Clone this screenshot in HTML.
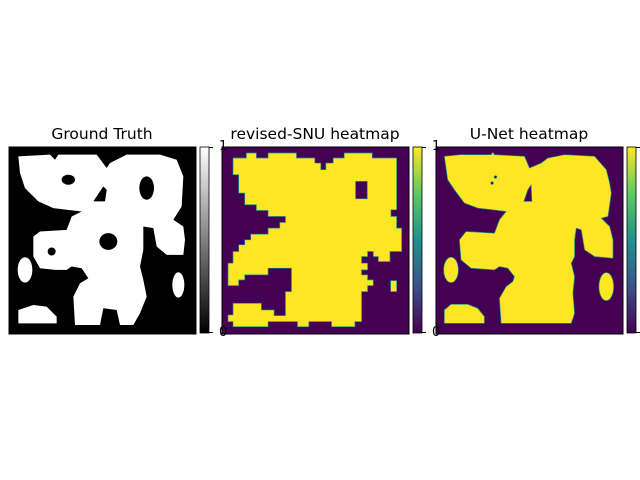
<!DOCTYPE html>
<html><head><meta charset="utf-8"><style>
body{margin:0;background:#fff;width:640px;height:480px;position:relative;overflow:hidden;font-family:"DejaVu Sans","Liberation Sans",sans-serif}
.t{position:absolute;font-size:15.5px;color:#000;text-align:center;width:240px;line-height:18px}
.tk{position:absolute;font-size:13px;color:#000;line-height:14px}
svg{position:absolute;overflow:visible}
</style></head><body>
<div class="t" style="left:-18px;top:125px">Ground Truth</div>
<div class="t" style="left:195px;top:125px">revised-SNU heatmap</div>
<div class="t" style="left:409px;top:125px">U-Net heatmap</div>

<svg style="left:9px;top:147px" width="187" height="187" viewBox="27 22 561 560" preserveAspectRatio="none">
<rect x="27" y="22" width="561" height="560" fill="#000"/>
<g fill="#fff">
<path d="M55,50 L150,45 165,60 175,45 290,45 320,85 330,70 380,45 480,45 530,60 550,110 545,200 520,240 550,260 555,300 550,345 500,345 470,320 460,265 430,260 430,330 420,380 430,420 440,470 420,520 400,555 360,555 350,510 310,505 300,555 225,555 220,470 240,430 265,415 245,385 215,380 200,390 165,390 120,385 100,350 100,290 120,275 200,270 215,230 245,215 200,210 160,205 115,185 75,145 60,100Z"/>
<ellipse cx="75" cy="390" rx="22" ry="38"/>
<ellipse cx="535" cy="435" rx="18" ry="38"/>
<path d="M55,510 L100,495 140,500 170,530 170,550 55,550Z"/>
</g>
<g fill="#000">
<ellipse cx="205" cy="120" rx="20" ry="15"/>
<path d="M280,185 L310,140 320,150 315,185Z"/>
<ellipse cx="440" cy="145" rx="22" ry="35"/>
<ellipse cx="325" cy="305" rx="27" ry="25"/>
<ellipse cx="155" cy="335" rx="12" ry="12"/>
</g>
<rect x="27" y="22" width="561" height="560" fill="none" stroke="#000" stroke-width="3"/>
</svg>

<svg style="left:222px;top:147px" width="187" height="187" viewBox="22 22 560 560" preserveAspectRatio="none">
<rect x="22" y="22" width="560" height="560" fill="#440154"/>
<g fill="#fde725" stroke="#21918c" stroke-width="2">
<path d="M55,55 L95,55 95,40 125,40 125,55 160,55 160,40 245,40 245,55 300,55 300,70 318,70 318,90 333,90 333,70 355,70 355,55 388,55 388,40 472,40 472,55 545,55 545,210 528,210 528,230 545,230 545,265 560,265 560,335 525,335 525,365 490,365 490,350 475,350 475,335 458,335 458,350 440,350 440,370 458,370 458,390 440,390 440,405 458,405 458,420 475,420 475,437 458,437 458,455 440,455 440,545 420,545 420,560 350,560 350,545 282,545 282,560 248,560 248,545 160,545 160,560 55,560 55,545 40,545 40,525 55,525 55,490 140,490 140,510 178,510 178,527 212,527 212,455 230,455 230,385 160,385 160,405 90,405 90,420 72,420 72,437 40,437 40,370 55,370 55,335 72,335 72,315 90,315 90,300 108,300 108,283 160,283 160,265 195,265 195,248 212,248 212,230 160,230 160,212 125,212 125,195 90,195 90,160 72,160 72,105 55,105Z"/>
<rect x="527" y="422" width="18" height="33"/>
</g>
<rect x="422" y="125" width="35" height="52" fill="#440154" stroke="#21918c" stroke-width="2"/>
<rect x="22" y="22" width="560" height="560" fill="none" stroke="#000" stroke-width="3"/>
</svg>

<svg style="left:436px;top:147px" width="187" height="187" viewBox="25 22 560 560" preserveAspectRatio="none">
<rect x="25" y="22" width="560" height="560" fill="#440154"/>
<g fill="#fde725" stroke="#21918c" stroke-width="2">
<path d="M50,50 L100,45 190,45 195,38 200,45 290,50 305,85 340,70 360,55 410,45 500,50 535,90 545,130 550,160 540,230 520,235 545,260 555,300 555,355 500,350 470,330 460,270 445,265 440,300 440,350 430,370 440,410 435,460 440,520 430,550 220,550 215,475 235,440 255,425 260,410 240,385 215,380 200,390 130,385 100,360 95,300 115,275 200,280 215,240 235,215 195,210 150,205 110,190 80,150 60,120Z"/>
<ellipse cx="70" cy="390" rx="22" ry="38"/>
<ellipse cx="535" cy="440" rx="22" ry="42"/>
<path d="M50,510 L70,493 120,493 150,505 170,530 170,550 50,550Z"/>
</g>
<g fill="#440154" stroke="#21918c" stroke-width="2">
<path d="M288,185 L300,150 310,135 312,185Z"/>
<circle cx="203" cy="112" r="4"/>
<circle cx="193" cy="130" r="4"/>
</g>
<rect x="25" y="22" width="560" height="560" fill="none" stroke="#000" stroke-width="3"/>
</svg>

<svg style="left:0;top:0" width="640" height="480">
<defs>
<linearGradient id="gg" x1="0" y1="1" x2="0" y2="0"><stop offset="0" stop-color="#000"/><stop offset="1" stop-color="#fff"/></linearGradient>
<linearGradient id="vg" x1="0" y1="1" x2="0" y2="0"><stop offset="0" stop-color="#440154"/><stop offset="0.25" stop-color="#3b528b"/><stop offset="0.5" stop-color="#21918c"/><stop offset="0.75" stop-color="#5ec962"/><stop offset="1" stop-color="#fde725"/></linearGradient>
</defs>
<g>
<rect x="200" y="147" width="9" height="186" fill="url(#gg)" stroke="#000" stroke-width="0.8"/>
<line x1="209" y1="147.5" x2="213" y2="147.5" stroke="#000"/><line x1="209" y1="332.5" x2="213" y2="332.5" stroke="#000"/>
</g>
<g>
<rect x="413" y="147" width="9" height="186" fill="url(#vg)" stroke="#000" stroke-width="0.8"/>
<line x1="422" y1="147.5" x2="426" y2="147.5" stroke="#000"/><line x1="422" y1="332.5" x2="426" y2="332.5" stroke="#000"/>
</g>
<g>
<rect x="627" y="147" width="9" height="186" fill="url(#vg)" stroke="#000" stroke-width="0.8"/>
<line x1="636" y1="147.5" x2="640" y2="147.5" stroke="#000"/><line x1="636" y1="332.5" x2="640" y2="332.5" stroke="#000"/>
</g>
</svg>
<div class="tk" style="left:219px;top:140px">1</div>
<div class="tk" style="left:219px;top:326px">0</div>
<div class="tk" style="left:432px;top:140px">1</div>
<div class="tk" style="left:432px;top:326px">0</div>
</body></html>
